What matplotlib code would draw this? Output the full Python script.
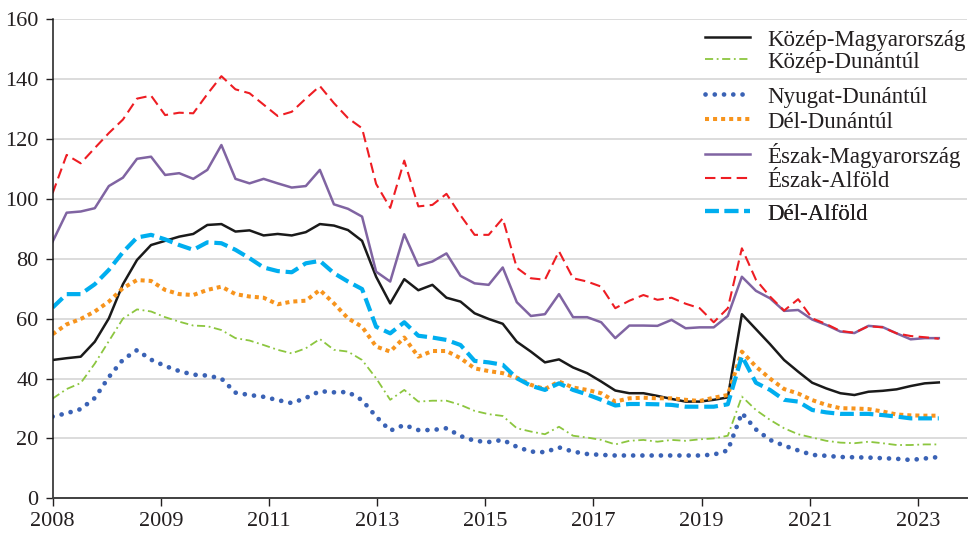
import numpy as np
import matplotlib.pyplot as plt
from matplotlib.lines import Line2D

# Negyedéves adatok, 2008 I. - 2023 IV. (64 pont)
kozep_magyarorszag = [46.2, 46.8, 47.3, 52.3, 60.1, 71.5, 79.6, 84.6, 86.0, 87.4,
                      88.3, 91.3, 91.6, 89.1, 89.5, 87.8, 88.3, 87.8, 88.9, 91.6,
                      91.1, 89.6, 86.0, 74.0, 65.1, 73.2, 69.5, 71.3, 67.0, 65.7,
                      61.8, 59.9, 58.3, 52.3, 49.0, 45.4, 46.4, 43.7, 41.8, 39.0,
                      36.0, 35.1, 35.1, 34.2, 33.2, 32.3, 32.3, 32.9, 33.7, 61.5,
                      56.5, 51.5, 46.2, 42.3, 38.6, 36.7, 35.1, 34.5, 35.6, 35.9,
                      36.4, 37.5, 38.4, 38.7]
kozep_dunantul = [33.3, 36.5, 38.5, 45.0, 52.5, 60.0, 63.1, 62.4, 60.5, 59.0,
                  57.7, 57.5, 56.2, 53.5, 52.7, 51.2, 49.6, 48.4, 50.1, 53.2,
                  49.6, 49.0, 46.2, 40.1, 32.9, 36.2, 32.3, 32.6, 32.6, 31.2,
                  29.2, 28.1, 27.5, 23.4, 22.3, 21.4, 23.9, 20.9, 20.3, 19.5,
                  18.0, 19.2, 19.5, 18.9, 19.5, 19.2, 19.7, 20.0, 20.9, 34.0,
                  29.5, 26.2, 23.4, 21.4, 20.3, 19.2, 18.6, 18.4, 18.9, 18.4,
                  17.8, 17.8, 18.0, 18.0]
nyugat_dunantul = [27.3, 28.4, 29.8, 33.5, 40.5, 46.3, 49.5, 46.3, 44.2, 42.5,
                   41.3, 41.0, 40.0, 35.3, 34.5, 33.9, 32.8, 31.8, 33.5, 35.8,
                   35.4, 35.5, 32.8, 27.3, 22.6, 24.5, 22.8, 22.8, 23.4, 20.8,
                   19.2, 18.8, 19.5, 17.2, 15.6, 15.4, 17.0, 15.6, 14.8, 14.5,
                   14.3, 14.3, 14.3, 14.3, 14.3, 14.3, 14.3, 14.6, 16.0, 28.5,
                   23.0, 19.5, 17.6, 16.0, 14.5, 14.2, 13.8, 13.7, 13.6, 13.4,
                   13.2, 12.8, 13.3, 13.8]
del_dunantul = [54.8, 58.1, 59.9, 62.4, 65.7, 70.2, 72.9, 72.6, 69.6, 68.2,
                67.9, 69.6, 70.7, 68.2, 67.4, 67.0, 64.8, 65.7, 66.0, 69.6,
                65.1, 60.1, 57.3, 50.7, 49.0, 53.7, 47.3, 49.2, 49.2, 46.8,
                43.4, 42.5, 41.8, 40.3, 37.9, 36.5, 39.0, 37.0, 36.2, 35.1,
                32.3, 33.4, 33.6, 33.4, 33.4, 32.9, 32.5, 33.6, 34.5, 49.0,
                44.0, 40.0, 36.5, 35.0, 32.8, 31.2, 30.1, 30.0, 29.8, 29.0,
                28.0, 27.7, 27.6, 27.6]
eszak_magyarorszag = [85.7, 95.4, 95.8, 96.9, 104.3, 107.1, 113.4, 114.1, 108.0, 108.6,
                      106.7, 109.7, 118.0, 106.7, 105.2, 106.7, 105.2, 103.8, 104.3, 109.7,
                      98.2, 96.7, 94.1, 75.7, 72.4, 88.2, 77.7, 79.1, 81.8, 74.3,
                      71.8, 71.3, 77.1, 65.5, 60.9, 61.5, 68.2, 60.5, 60.5, 58.8,
                      53.5, 57.7, 57.7, 57.6, 59.6, 56.8, 57.1, 57.1, 60.9, 74.0,
                      69.3, 66.8, 62.6, 62.9, 59.7, 57.9, 55.7, 55.2, 57.6, 57.2,
                      55.1, 53.1, 53.5, 53.5]
eszak_alfold = [101.9, 114.7, 111.9, 117.0, 122.0, 126.5, 133.5, 134.5, 128.0, 128.8,
                128.6, 135.0, 141.0, 136.6, 135.3, 131.5, 127.7, 129.1, 133.5, 137.7,
                132.0, 127.0, 123.6, 105.0, 97.0, 112.8, 97.5, 98.0, 101.7, 94.5,
                88.0, 88.0, 93.5, 77.0, 73.5, 73.0, 82.5, 73.5, 72.4, 70.7,
                63.5, 66.0, 67.9, 66.3, 67.0, 65.0, 63.5, 58.8, 63.5, 83.5,
                73.0, 67.4, 62.7, 66.5, 60.1, 58.2, 55.9, 55.3, 57.5, 57.1,
                55.1, 54.2, 53.8, 53.3]
del_alfold = [63.7, 68.2, 68.2, 71.5, 76.3, 82.2, 87.1, 88.0, 86.5, 84.6,
              83.0, 85.5, 85.2, 83.0, 80.2, 77.1, 75.9, 75.5, 78.5, 79.3,
              75.2, 72.4, 69.9, 57.3, 55.1, 58.8, 54.3, 53.7, 52.9, 51.2,
              45.9, 45.4, 44.6, 40.1, 37.6, 36.2, 38.4, 36.2, 34.7, 32.9,
              31.0, 31.5, 31.5, 31.4, 31.2, 30.6, 30.6, 30.6, 31.4, 47.5,
              38.6, 36.2, 32.9, 32.3, 29.5, 28.7, 28.2, 28.2, 28.2, 27.8,
              27.3, 26.7, 26.7, 26.7]

ev_cimkek = ['2008', '2009', '2011', '2013', '2015', '2017', '2019', '2021', '2023']
ev_lepes = 7.69  # a feliratok ennyi negyedévenként állnak

plt.rcParams['font.family'] = ['Liberation Serif', 'DejaVu Serif']

sorozatok = [
    ('Közép-Magyarország', kozep_magyarorszag,
     dict(color='#1a1a1a', lw=1.8, ls='-')),
    ('Közép-Dunántúl', kozep_dunantul,
     dict(color='#8cc63f', lw=1.3, ls=(0, (4.5, 2, 1, 2)))),
    ('Nyugat-Dunántúl', nyugat_dunantul,
     dict(color='#3a62b5', lw=3.4, ls=(0, (0.01, 1.95)), dash_capstyle='round')),
    ('Dél-Dunántúl', del_dunantul,
     dict(color='#f7941d', lw=2.9, ls=(0, (1, 1)), dash_capstyle='butt')),
    ('Észak-Magyarország', eszak_magyarorszag,
     dict(color='#8064a2', lw=1.8, ls='-')),
    ('Észak-Alföld', eszak_alfold,
     dict(color='#ee1d23', lw=1.5, ls=(0, (5, 2.6)))),
    ('Dél-Alföld', del_alfold,
     dict(color='#00aeef', lw=3.0, ls=(0, (3.3, 1.4)))),
]

fig = plt.figure(figsize=(9.72, 5.33), dpi=100)
ax = fig.add_axes([0.0541, 0.0651, 0.9407, 0.8987])

x = np.arange(len(kozep_magyarorszag))
for nev, ertekek, stilus in sorozatok:
    ax.plot(x, ertekek, label=nev, **stilus)

ax.set_xlim(0, 65)
ax.set_ylim(0, 160)
ax.set_yticks(range(0, 161, 20))
ax.set_xticks(np.arange(len(ev_cimkek)) * ev_lepes)
ax.set_xticklabels(ev_cimkek)

ax.grid(axis='y', color='#d9d9d9', lw=1.3)
ax.set_axisbelow(True)
for s in ['top', 'right']:
    ax.spines[s].set_visible(False)
ax.spines['left'].set_color('#1a1a1a')
ax.spines['left'].set_linewidth(1.1)
ax.spines['bottom'].set_color('#404040')
ax.spines['bottom'].set_linewidth(1.4)

ax.tick_params(axis='y', length=5, width=1.0, pad=5, labelsize=16, colors='#231f20')
ax.tick_params(axis='x', length=6, width=1.0, pad=4, labelsize=16, colors='#231f20')

# jelmagyarázat - párokba rendezve, mint az eredetin
legend_sorok = [40, 62, 97, 122, 155, 181, 214]
for (nev, _, stilus), ypx in zip(sorozatok, legend_sorok):
    h = Line2D([], [], **stilus)
    leg = ax.legend([h], [nev], loc='center left',
                    bbox_to_anchor=(705 / 972, 1 - ypx / 533),
                    bbox_transform=fig.transFigure, frameon=False,
                    borderpad=0, borderaxespad=0, handlelength=1.96,
                    handletextpad=0.74, fontsize=16.5)
    for t in leg.get_texts():
        t.set_color('#231f20')
    ax.add_artist(leg)

fig.savefig('out.png', dpi=100)
